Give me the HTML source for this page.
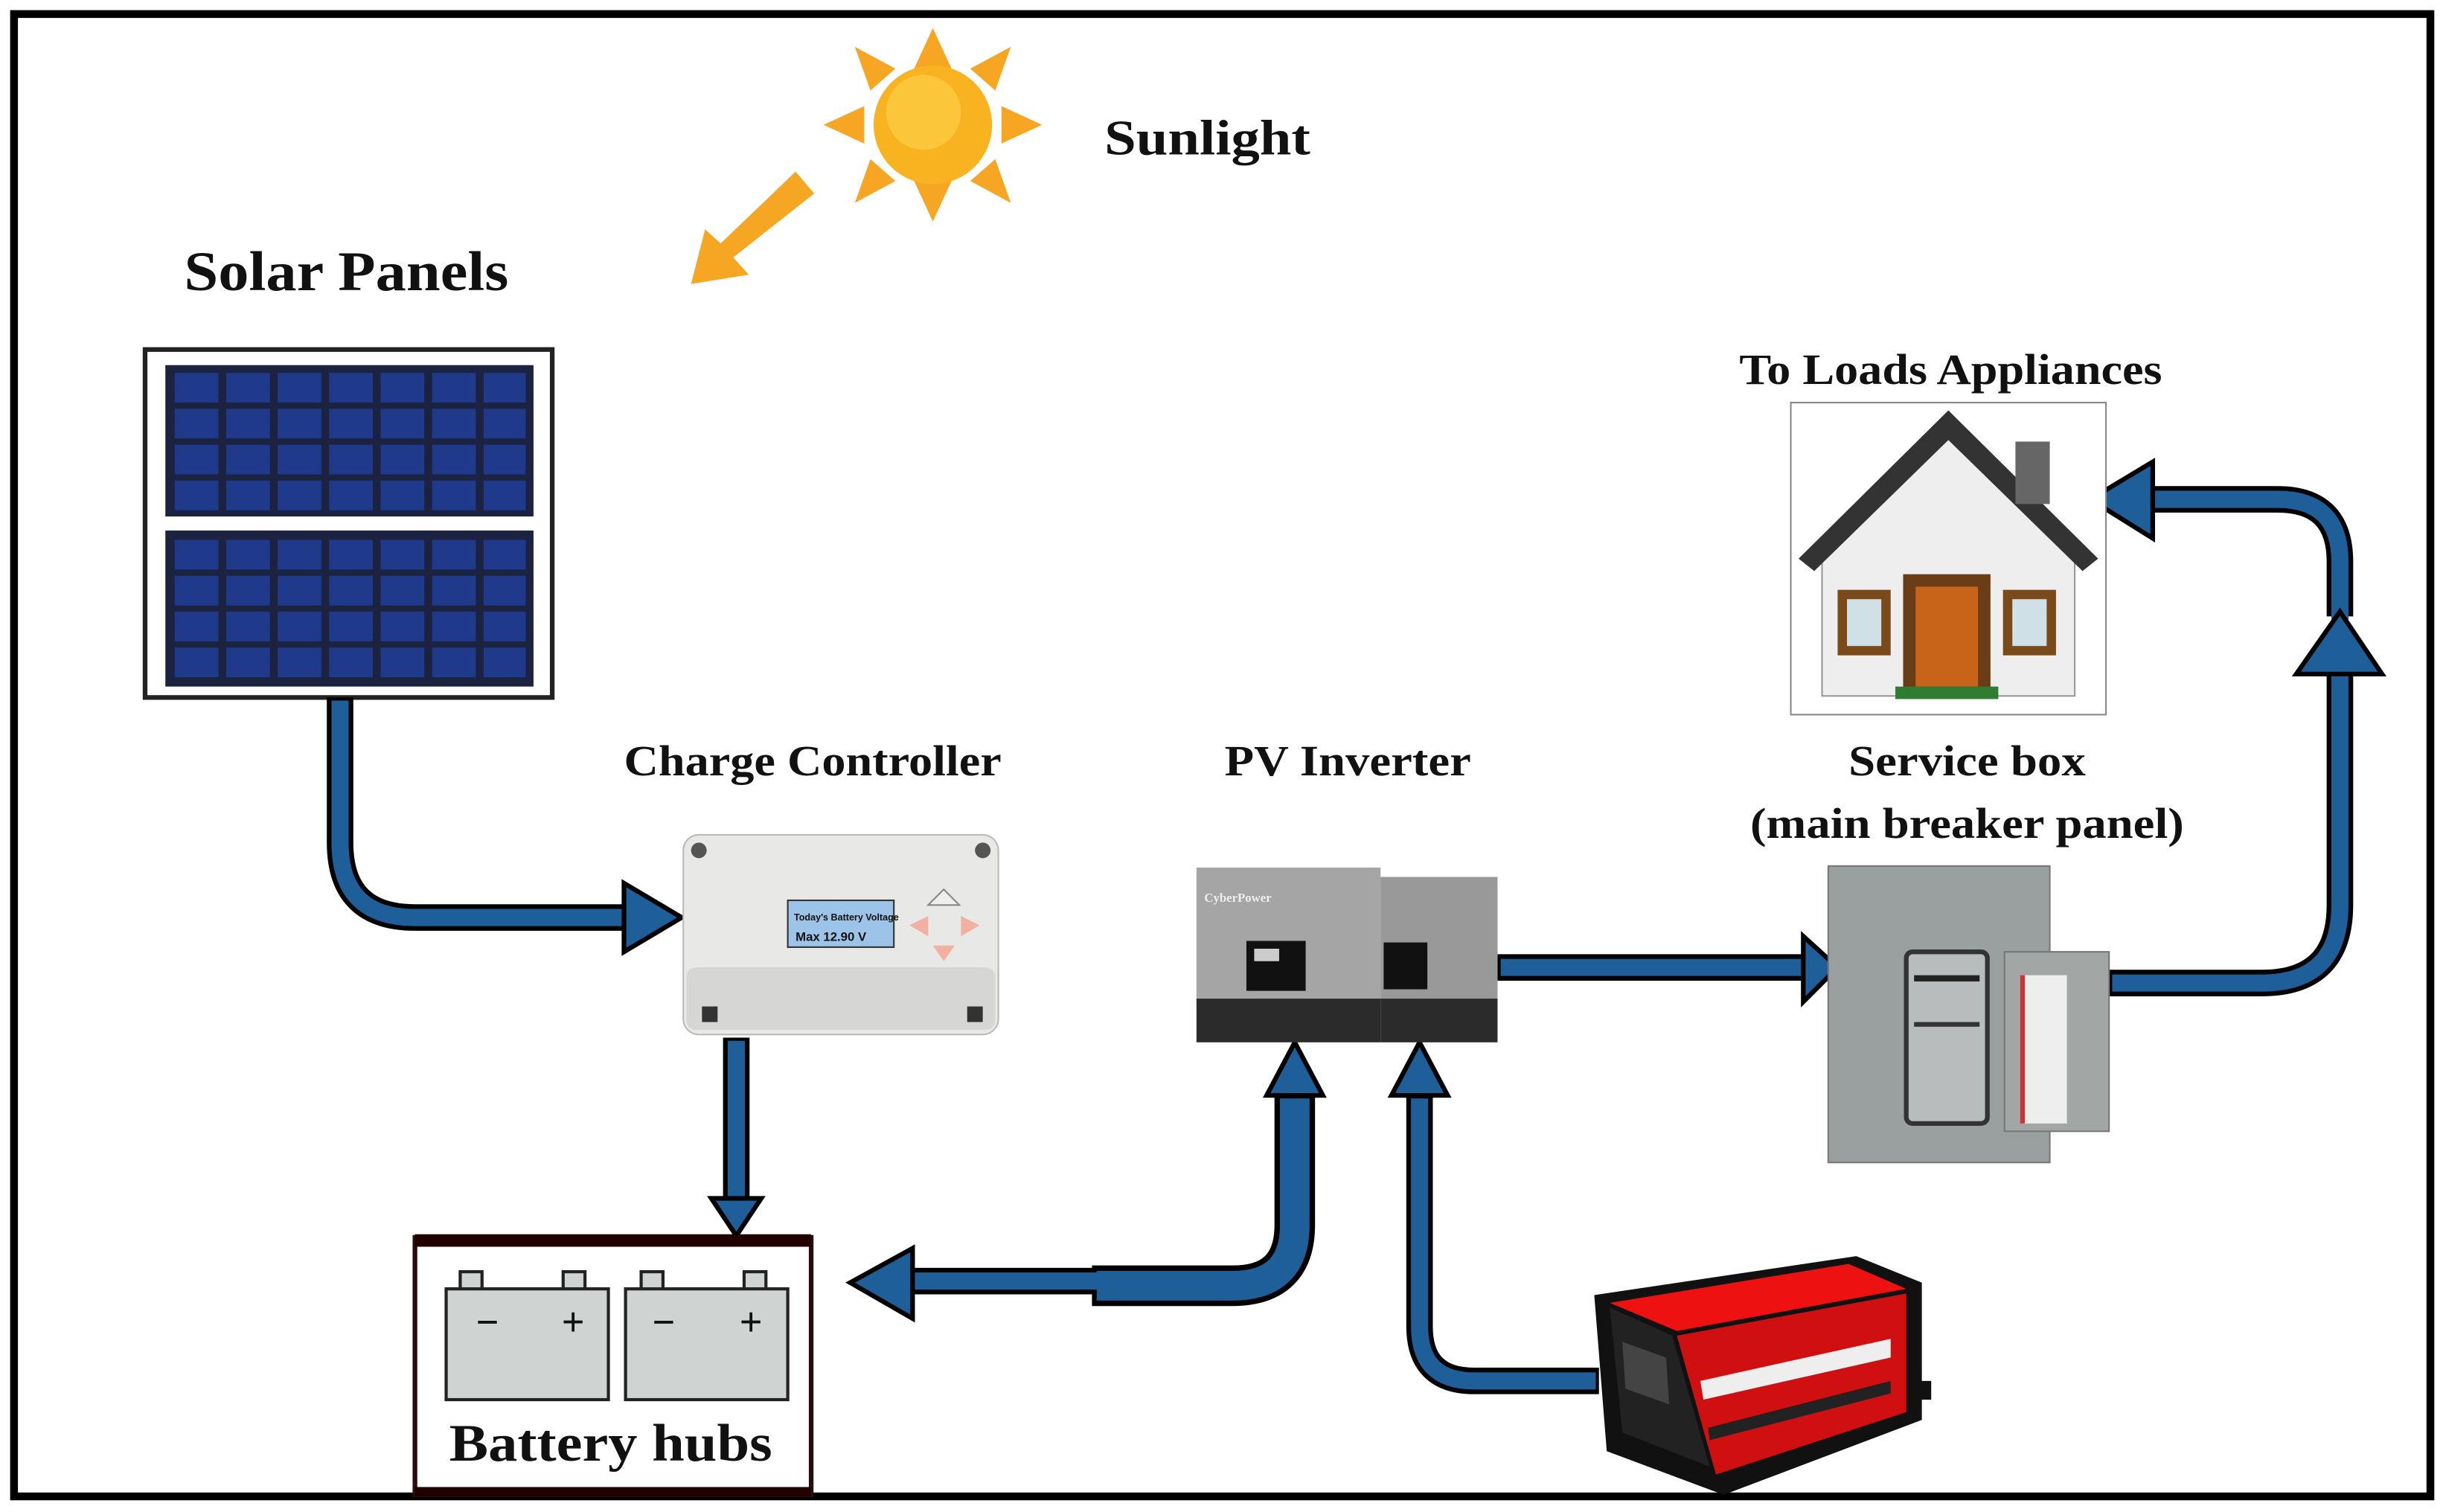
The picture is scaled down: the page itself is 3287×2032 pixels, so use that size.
<!DOCTYPE html>
<html><head><meta charset="utf-8"><style>
html,body{margin:0;padding:0;background:#fff;}
svg{display:block;}
text{font-family:"Liberation Serif",serif;font-weight:bold;fill:#111;}
</style></head><body>
<svg width="3287" height="2032" viewBox="0 0 1568 969" preserveAspectRatio="none" xmlns="http://www.w3.org/2000/svg">
<rect x="0" y="0" width="1568" height="969" fill="#fff"/>
<rect x="9" y="9" width="1549" height="950" fill="none" stroke="#000" stroke-width="5"/>

<!-- Sun -->
<g fill="#f6a623">
<polygon points="598,18 586,44 610,44"/><polygon points="598,142 586,116 610,116"/>
<polygon points="528,80 554,68 554,92"/><polygon points="668,80 642,68 642,92"/>
<polygon points="548,30 558,58 574,44"/><polygon points="648,30 638,58 622,44"/>
<polygon points="548,130 558,102 574,116"/><polygon points="648,130 638,102 622,116"/>
</g>
<circle cx="598" cy="80" r="38" fill="#f9b320"/>
<circle cx="592" cy="72" r="24" fill="#fcc63a"/>
<text x="708" y="99" font-size="32" textLength="132" lengthAdjust="spacingAndGlyphs">Sunlight</text>
<polygon points="510,110 522,124 470,165 480,176 443,182 452,147 462,156" fill="#f5a623"/>

<text x="118" y="186" font-size="36" textLength="208" lengthAdjust="spacingAndGlyphs">Solar Panels</text>
<rect x="93" y="224" width="261" height="223" fill="#fff" stroke="#222" stroke-width="3"/>
<rect x="106" y="234" width="236" height="97" fill="#1b2340"/>
<rect x="106" y="340" width="236" height="100" fill="#1b2340"/>
<g fill="#1f3a8a">
<rect x="112" y="239" width="28" height="19"/><rect x="145" y="239" width="28" height="19"/><rect x="178" y="239" width="28" height="19"/><rect x="211" y="239" width="28" height="19"/><rect x="244" y="239" width="28" height="19"/><rect x="277" y="239" width="28" height="19"/><rect x="310" y="239" width="27" height="19"/>
<rect x="112" y="262" width="28" height="19"/><rect x="145" y="262" width="28" height="19"/><rect x="178" y="262" width="28" height="19"/><rect x="211" y="262" width="28" height="19"/><rect x="244" y="262" width="28" height="19"/><rect x="277" y="262" width="28" height="19"/><rect x="310" y="262" width="27" height="19"/>
<rect x="112" y="285" width="28" height="19"/><rect x="145" y="285" width="28" height="19"/><rect x="178" y="285" width="28" height="19"/><rect x="211" y="285" width="28" height="19"/><rect x="244" y="285" width="28" height="19"/><rect x="277" y="285" width="28" height="19"/><rect x="310" y="285" width="27" height="19"/>
<rect x="112" y="308" width="28" height="19"/><rect x="145" y="308" width="28" height="19"/><rect x="178" y="308" width="28" height="19"/><rect x="211" y="308" width="28" height="19"/><rect x="244" y="308" width="28" height="19"/><rect x="277" y="308" width="28" height="19"/><rect x="310" y="308" width="27" height="19"/>
<rect x="112" y="346" width="28" height="19"/><rect x="145" y="346" width="28" height="19"/><rect x="178" y="346" width="28" height="19"/><rect x="211" y="346" width="28" height="19"/><rect x="244" y="346" width="28" height="19"/><rect x="277" y="346" width="28" height="19"/><rect x="310" y="346" width="27" height="19"/>
<rect x="112" y="369" width="28" height="19"/><rect x="145" y="369" width="28" height="19"/><rect x="178" y="369" width="28" height="19"/><rect x="211" y="369" width="28" height="19"/><rect x="244" y="369" width="28" height="19"/><rect x="277" y="369" width="28" height="19"/><rect x="310" y="369" width="27" height="19"/>
<rect x="112" y="392" width="28" height="19"/><rect x="145" y="392" width="28" height="19"/><rect x="178" y="392" width="28" height="19"/><rect x="211" y="392" width="28" height="19"/><rect x="244" y="392" width="28" height="19"/><rect x="277" y="392" width="28" height="19"/><rect x="310" y="392" width="27" height="19"/>
<rect x="112" y="415" width="28" height="19"/><rect x="145" y="415" width="28" height="19"/><rect x="178" y="415" width="28" height="19"/><rect x="211" y="415" width="28" height="19"/><rect x="244" y="415" width="28" height="19"/><rect x="277" y="415" width="28" height="19"/><rect x="310" y="415" width="27" height="19"/>
</g>

<!-- Arrows -->
<g fill="none" stroke-linejoin="round">
<g stroke="#000" stroke-width="17">
<path d="M218,447 V540 Q218,588 266,588 H402"/>
<path d="M472,665 V768"/>
<path d="M702,821 H580"/>
<path d="M910,702 V850 Q910,885 945,885 H1025"/>
<path d="M960,620 H1158"/>
<path d="M1352,630 H1450 Q1500,630 1500,580 V430"/>
<path d="M1500,395 V360 Q1500,320 1460,320 H1378"/>
</g>
<path d="M830,702 V785 Q830,824 790,824 H700" stroke="#000" stroke-width="26" stroke-linecap="butt"/>
<g stroke="#1f5f99" stroke-width="11">
<path d="M218,449 V540 Q218,588 266,588 H404"/>
<path d="M472,667 V770"/>
<path d="M704,821 H578"/>
<path d="M910,704 V850 Q910,885 945,885 H1023"/>
<path d="M962,620 H1160"/>
<path d="M1354,630 H1450 Q1500,630 1500,580 V428"/>
<path d="M1500,397 V360 Q1500,320 1460,320 H1376"/>
</g>
<path d="M830,704 V785 Q830,824 790,824 H703" stroke="#1f5f99" stroke-width="19"/>
</g>
<g fill="#1f5f99" stroke="#000" stroke-width="3" stroke-linejoin="miter">
<polygon points="400,566 437,588 400,610"/>
<polygon points="456,768 488,768 472,792"/>
<polygon points="585,800 545,822 585,845"/>
<polygon points="812,702 830,668 848,702"/>
<polygon points="892,702 910,668 928,702"/>
<polygon points="1156,600 1178,620 1156,642"/>
<polygon points="1472,432 1500,392 1527,432"/>
<polygon points="1380,296 1340,320 1380,345"/>
</g>

<!-- Charge controller -->
<text x="400" y="497" font-size="28" textLength="242" lengthAdjust="spacingAndGlyphs">Charge Controller</text>
<rect x="438" y="535" width="202" height="128" rx="10" fill="#e8e8e6" stroke="#bbb"/>
<rect x="440" y="620" width="198" height="40" rx="6" fill="#d6d6d4"/>
<circle cx="448" cy="545" r="5" fill="#555"/><circle cx="630" cy="545" r="5" fill="#555"/>
<rect x="505" y="577" width="68" height="30" fill="#9cc4e8" stroke="#333"/>
<text x="509" y="590" font-size="6" style="font-family:'Liberation Sans',sans-serif">Today's Battery Voltage</text>
<text x="510" y="603" font-size="8" style="font-family:'Liberation Sans',sans-serif">Max 12.90 V</text>
<polygon points="595,580 605,570 615,580" fill="#eee" stroke="#888"/>
<polygon points="583,593 595,587 595,600" fill="#f2b0a0"/><polygon points="628,593 616,587 616,600" fill="#f2b0a0"/>
<polygon points="598,606 612,606 605,616" fill="#f2b0a0"/>
<rect x="450" y="645" width="10" height="10" fill="#333"/><rect x="620" y="645" width="10" height="10" fill="#333"/>

<!-- Battery -->
<rect x="266" y="793" width="254" height="165" fill="#fff" stroke="#2a0d0d" stroke-width="3"/>
<rect x="266" y="791" width="254" height="8" fill="#200"/>
<rect x="266" y="953" width="254" height="6" fill="#200"/>
<g fill="#cfd3d2" stroke="#222" stroke-width="2">
<rect x="295" y="815" width="14" height="12"/><rect x="361" y="815" width="14" height="12"/>
<rect x="411" y="815" width="14" height="12"/><rect x="477" y="815" width="14" height="12"/>
<rect x="286" y="826" width="104" height="71"/><rect x="401" y="826" width="104" height="71"/>
</g>
<text x="305" y="856" font-size="26">−</text><text x="360" y="856" font-size="26">+</text>
<text x="418" y="856" font-size="26">−</text><text x="474" y="856" font-size="26">+</text>
<text x="288" y="936" font-size="34" textLength="207" lengthAdjust="spacingAndGlyphs">Battery hubs</text>

<!-- Inverter -->
<text x="785" y="497" font-size="28" textLength="158" lengthAdjust="spacingAndGlyphs">PV Inverter</text>
<rect x="767" y="556" width="118" height="86" fill="#a5a5a5"/>
<rect x="767" y="640" width="118" height="28" fill="#2b2b2b"/>
<rect x="885" y="562" width="75" height="80" fill="#999"/>
<rect x="885" y="640" width="75" height="28" fill="#2b2b2b"/>
<rect x="799" y="603" width="38" height="32" fill="#111"/><rect x="804" y="608" width="16" height="8" fill="#ccc"/>
<rect x="887" y="604" width="28" height="30" fill="#111"/>
<text x="772" y="578" font-size="8" style="fill:#eee">CyberPower</text>

<!-- Service box -->
<text x="1185" y="497" font-size="28" textLength="152" lengthAdjust="spacingAndGlyphs">Service box</text>
<text x="1122" y="537" font-size="28" textLength="278" lengthAdjust="spacingAndGlyphs">(main breaker panel)</text>
<rect x="1172" y="555" width="142" height="190" fill="#9aa0a0" stroke="#777"/>
<rect x="1285" y="610" width="67" height="115" fill="#a2a7a6" stroke="#777"/>
<rect x="1222" y="610" width="52" height="110" rx="4" fill="#b8bcbc" stroke="#333" stroke-width="3"/>
<rect x="1227" y="625" width="42" height="4" fill="#222"/><rect x="1227" y="655" width="42" height="3" fill="#333"/>
<rect x="1295" y="625" width="30" height="95" fill="#eee"/><rect x="1295" y="625" width="3" height="95" fill="#c33"/>

<!-- House -->
<text x="1115" y="246" font-size="28" textLength="271" lengthAdjust="spacingAndGlyphs">To Loads Appliances</text>
<rect x="1148" y="258" width="202" height="200" fill="#fff" stroke="#888"/>
<polygon points="1168,360 1249,275 1330,360 1330,446 1168,446" fill="#eee" stroke="#999"/>
<polygon points="1153,358 1249,263 1345,358 1335,366 1249,282 1163,366" fill="#333"/>
<rect x="1292" y="283" width="22" height="40" fill="#666"/>
<rect x="1220" y="368" width="56" height="78" fill="#6b3d16"/>
<rect x="1228" y="376" width="40" height="64" fill="#c8641a"/>
<rect x="1178" y="378" width="34" height="42" fill="#7a4a1a"/><rect x="1184" y="384" width="22" height="30" fill="#cfe0e6"/>
<rect x="1284" y="378" width="34" height="42" fill="#7a4a1a"/><rect x="1290" y="384" width="22" height="30" fill="#cfe0e6"/>
<rect x="1215" y="440" width="66" height="8" fill="#2e7d32"/>

<!-- Generator -->
<polygon points="1022,830 1190,805 1232,822 1232,910 1105,958 1030,930" fill="#111"/>
<polygon points="1032,835 1185,810 1222,826 1075,853" fill="#e11"/>
<polygon points="1075,856 1222,829 1222,905 1100,945" fill="#d01010"/>
<polygon points="1032,838 1072,856 1096,940 1040,918" fill="#222"/>
<polygon points="1040,860 1068,870 1070,900 1042,890" fill="#444"/>
<polygon points="1090,885 1212,858 1212,870 1092,897" fill="#eee"/>
<polygon points="1095,915 1212,885 1212,893 1096,923" fill="#222"/>
<rect x="1228" y="885" width="10" height="12" fill="#111"/>
</svg>
</body></html>
